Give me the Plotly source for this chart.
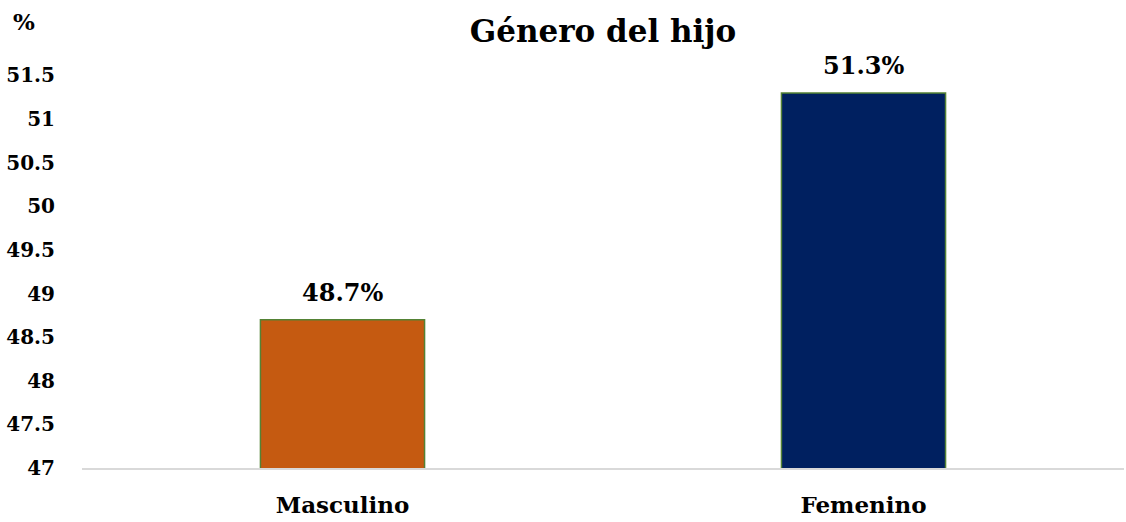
import plotly.graph_objects as go

categories = ["Masculino", "Femenino"]
values = [48.7, 51.3]
colors = ["#C55A11", "#002060"]
y_ticks = [47, 47.5, 48, 48.5, 49, 49.5, 50, 50.5, 51, 51.5]
y_tick_labels = ["47", "47.5", "48", "48.5", "49", "49.5", "50", "50.5", "51", "51.5"]

font_family = "DejaVu Serif"

fig = go.Figure(go.Bar(
    x=categories, y=values,
    marker=dict(color=colors, line=dict(color="#548235", width=1.5)),
    width=0.315,
))

for c, v in zip(categories, values):
    fig.add_annotation(x=c, y=v, text=f"<b>{v:.1f}%</b>", showarrow=False,
                       yanchor="bottom", yshift=11,
                       font=dict(family=font_family, size=24, color="black"))

fig.add_annotation(x=-0.068, y=1.09, xref="paper", yref="paper", text="<b>%</b>",
                   showarrow=False, xanchor="left", yanchor="middle",
                   font=dict(family=font_family, size=23, color="black"))

fig.update_layout(
    width=1126, height=522,
    margin=dict(l=82, r=2, t=58, b=54, autoexpand=False),
    paper_bgcolor="white", plot_bgcolor="white",
    font=dict(family=font_family),
    title=dict(text="<b>Género del hijo</b>", x=0.5, xref="paper", y=0.94, yanchor="middle",
               font=dict(family=font_family, size=31, color="black")),
    showlegend=False,
    xaxis=dict(showline=True, linecolor="#D9D9D9", linewidth=2, showgrid=False,
               ticks="", ticklabelstandoff=15, automargin=False,
               tickvals=categories, ticktext=[f"<b>{c}</b>" for c in categories],
               tickfont=dict(family=font_family, size=23, color="black")),
    yaxis=dict(range=[47, 51.7], tickvals=y_ticks,
               ticktext=[f"<b>{t}</b>" for t in y_tick_labels],
               showgrid=False, showline=False, zeroline=False, ticks="",
               ticklabelstandoff=26, automargin=False,
               tickfont=dict(family=font_family, size=20, color="black")),
)

fig.write_html("out.html")
